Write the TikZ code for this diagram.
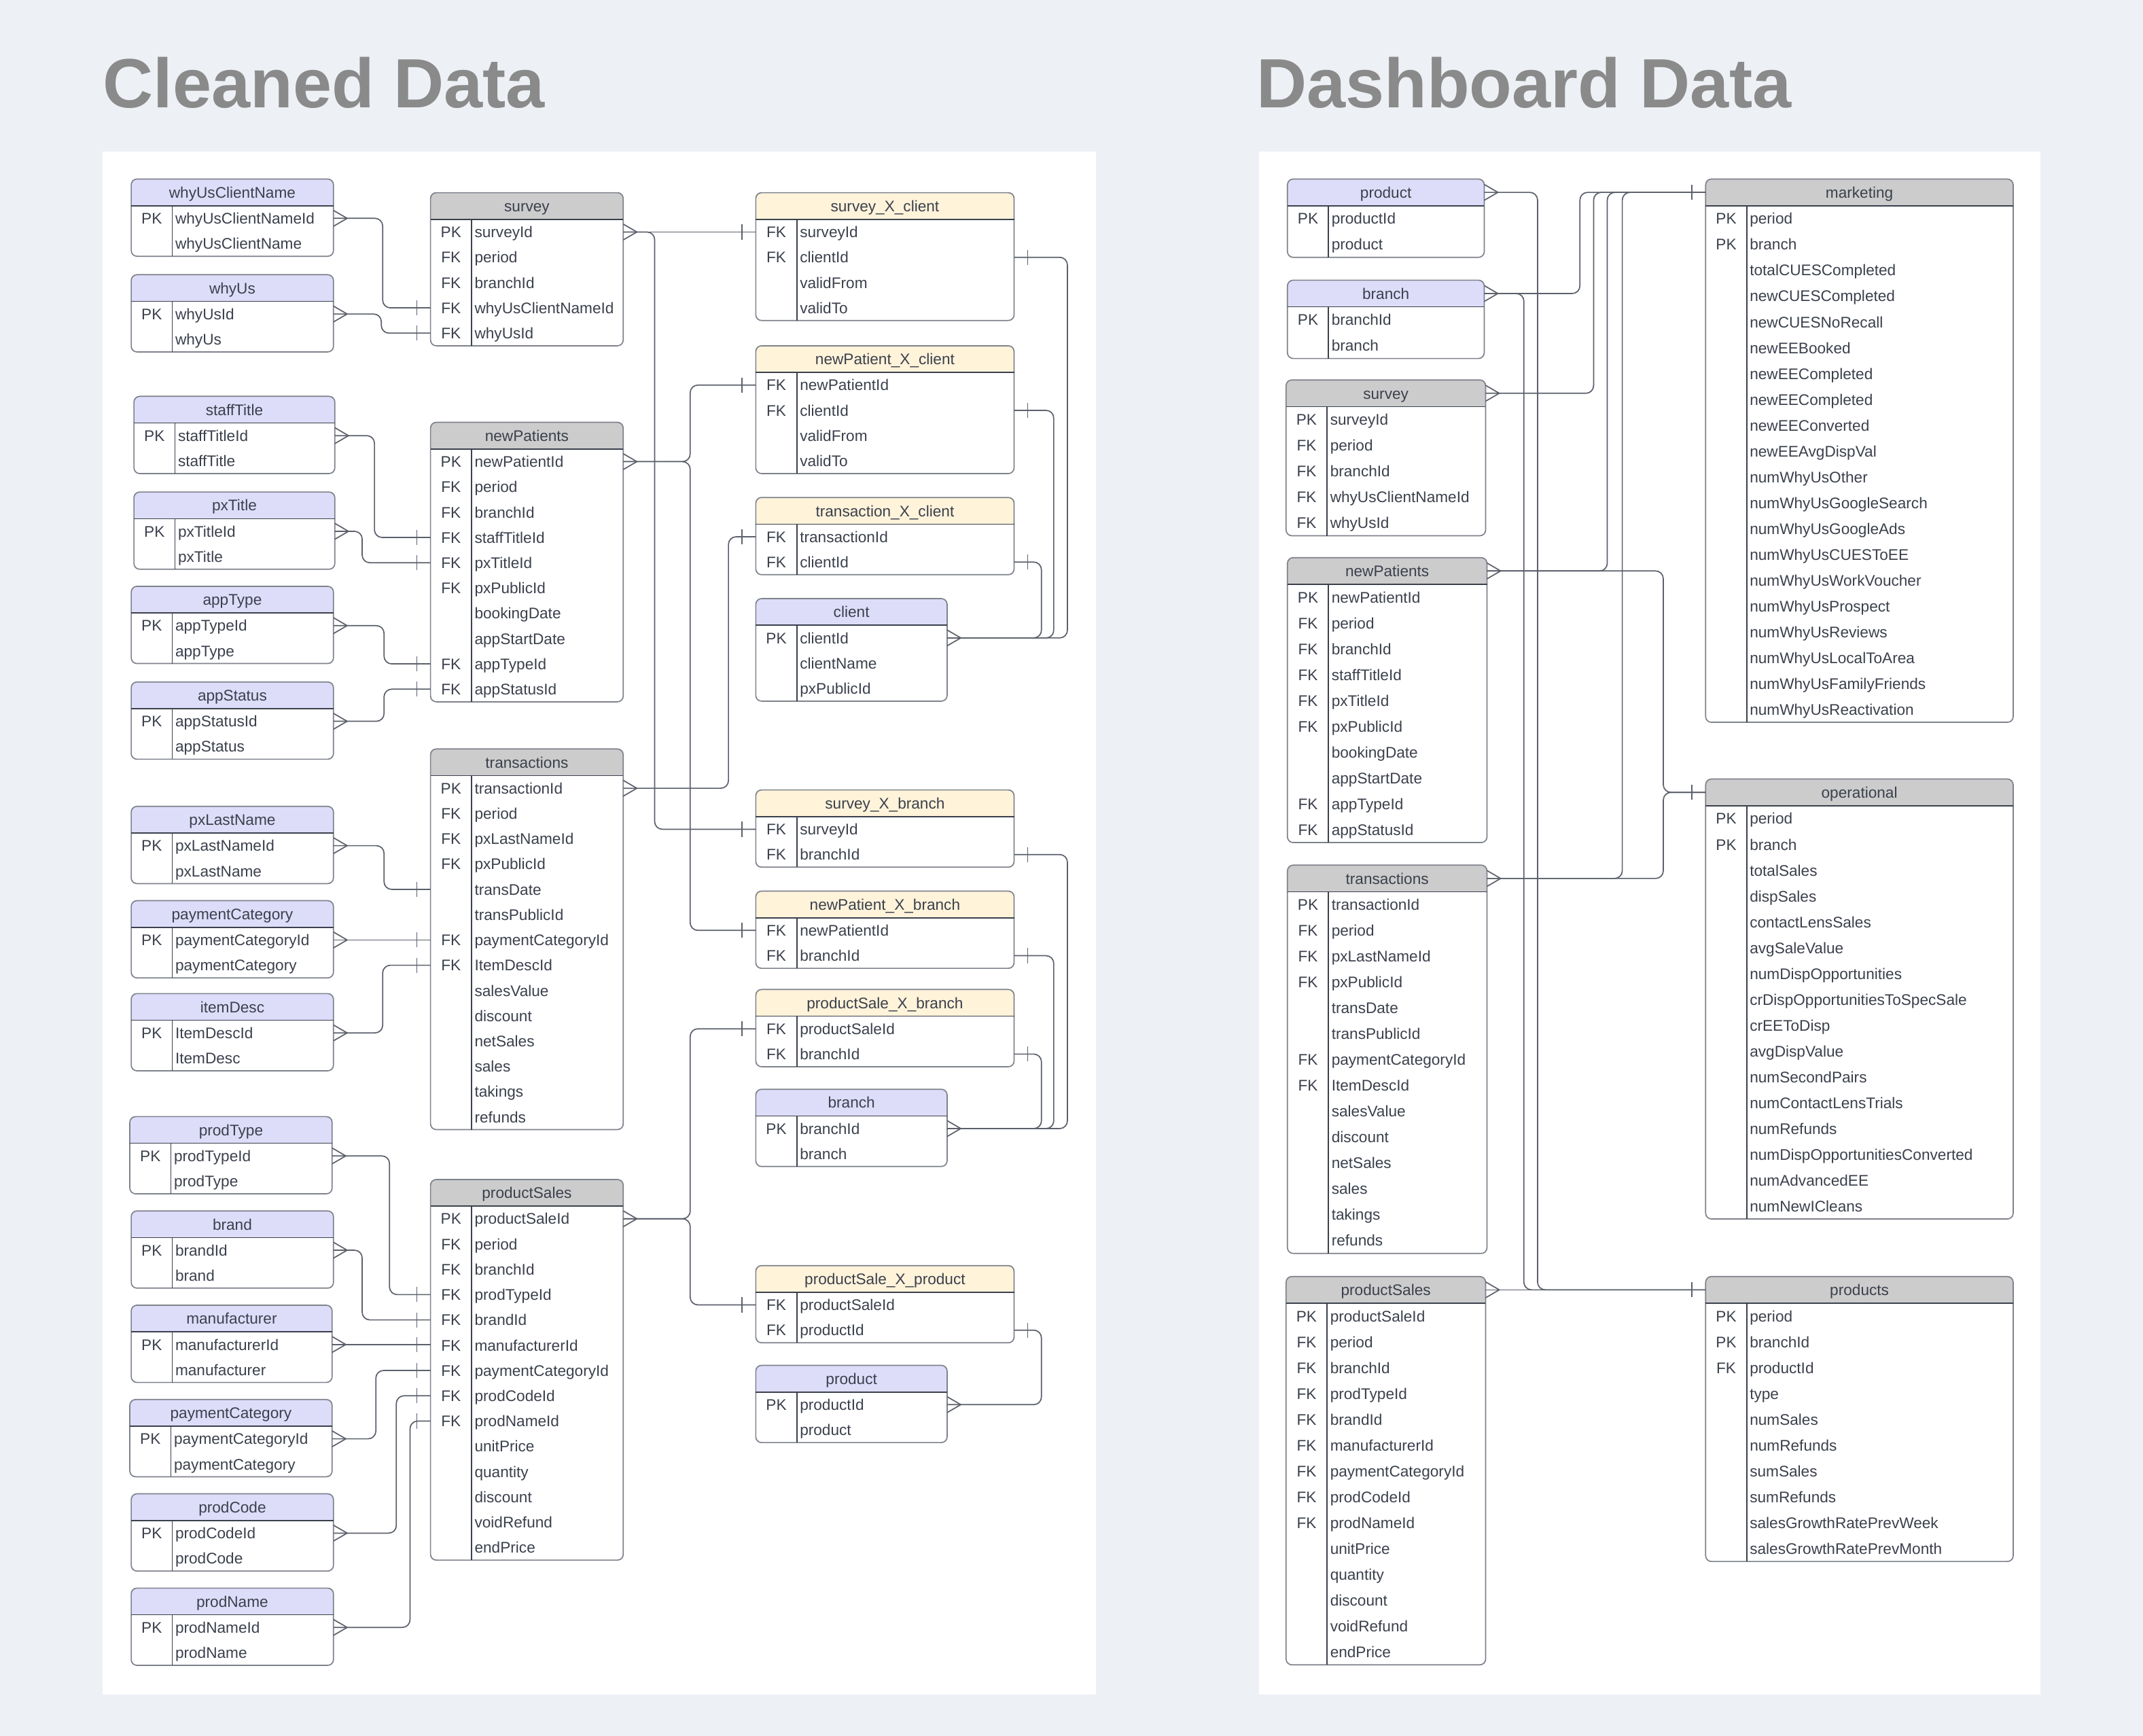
\documentclass[tikz,border=0pt]{standalone}
\usepackage{fontspec}
\setmainfont{Liberation Sans}
\usepackage{xcolor}
\usepackage{tikz}
\usetikzlibrary{calc}

\definecolor{bgpage}{HTML}{EDF0F5}
\definecolor{hdrlav}{HTML}{DDDDFA}
\definecolor{hdrgray}{HTML}{CCCCCC}
\definecolor{hdrcream}{HTML}{FFF3DA}
\definecolor{txtdark}{HTML}{3B404C}
\definecolor{titlegray}{HTML}{8A8A8A}
\definecolor{edgegray}{HTML}{7E828B}
\definecolor{linegray}{HTML}{5B606B}

\tikzstyle{hdrbox} = [rectangle, inner sep=0pt, outer sep=0pt, minimum height=0.4875cm, text height=5.8pt, text depth=0pt, text=txtdark, font=\fontsize{8}{9}\selectfont]
\tikzstyle{rowbox} = [rectangle, inner sep=0pt, outer sep=0pt]
\tikzstyle{keytxt} = [inner sep=0pt, text height=5.8pt, text depth=0pt, text=txtdark, font=\fontsize{8}{9}\selectfont]
\tikzstyle{fldtxt} = [inner sep=0pt, anchor=west, text height=5.8pt, text depth=0pt, text=txtdark, font=\fontsize{8}{9}\selectfont]
\tikzstyle{frame} = [draw=edgegray, line width=0.6pt, rounded corners=3]
\tikzstyle{sepline} = [draw=txtdark, line width=0.6pt]
\tikzstyle{rel} = [draw=linegray, line width=0.6pt, rounded corners=4]
\tikzstyle{title} = [anchor=base west, inner sep=0pt, text=titlegray, font=\fontsize{36.3}{40}\selectfont\bfseries]

\newcommand{\rowh}{18.5}
% table: name, left, top, width, header colour, title, key/field rows
\newcommand{\ertable}[7]{%
  \fill[#5, rounded corners=3] (#2,#3) rectangle ++(#4,19.5);
  \fill[#5] (#2,#3+10) rectangle ++(#4,9.5);
  \node[hdrbox, minimum width=#4*0.025cm, anchor=north west] (#1) at (#2,#3) {#6};
  \foreach \k/\f [count=\i] in {#7} {
    \node[rowbox, minimum width=#4*0.025cm, minimum height=\rowh*0.025cm, anchor=north west] (#1-\i) at (#2,{#3+19.5+(\i-1)*\rowh}) {};
    \node[keytxt] (#1-\i-k) at ($(#1-\i.west)+(15,0)$) {\k};
    \node[fldtxt] (#1-\i-f) at ($(#1-\i.west)+(32,0)$) {\f};
    \xdef\nrows{\i}
  }
  \draw[frame] (#2,#3) rectangle (#1-\nrows.south east);
  \draw[sepline] (#1.south west) -- (#1.south east);
  \draw[sepline] ($(#1.south west)+(30,0)$) -- ($(#1-\nrows.south west)+(30,0)$);
}
% crow's foot on a right edge, bar at an edge
\newcommand{\manyend}[1]{\draw[rel, sharp corners] ($(#1)+(0,-5.8)$) -- ($(#1)+(10,0)$) -- ($(#1)+(0,5.8)$);}
\newcommand{\oneend}[2]{\draw[rel] ($(#1)+(#2,-5.5)$) -- ($(#1)+(#2,5.5)$);}

\begin{document}
\begin{tikzpicture}[x=0.025cm, y=-0.025cm]
  \useasboundingbox (0,0) rectangle (1568,1270);
  \fill[bgpage] (0,0) rectangle (1568,1270);            % page
  \fill[white] (75,111) rectangle (802,1240);           % left panel
  \fill[white] (921,111) rectangle (1493,1240);         % right panel
  \node[title] (ttlclean) at (75,79) {Cleaned Data};
  \node[title] (ttldash) at (919,79) {Dashboard Data};

  % ---- Cleaned Data: lookup tables
  \ertable{wucn}{96}{131}{148}{hdrlav}{whyUsClientName}{PK/whyUsClientNameId, /whyUsClientName}
  \ertable{whyus}{96}{201}{148}{hdrlav}{whyUs}{PK/whyUsId, /whyUs}
  \ertable{stafft}{98}{290}{147}{hdrlav}{staffTitle}{PK/staffTitleId, /staffTitle}
  \ertable{pxt}{98}{360}{147}{hdrlav}{pxTitle}{PK/pxTitleId, /pxTitle}
  \ertable{appt}{96}{429}{148}{hdrlav}{appType}{PK/appTypeId, /appType}
  \ertable{apps}{96}{499}{148}{hdrlav}{appStatus}{PK/appStatusId, /appStatus}
  \ertable{pxln}{96}{590}{148}{hdrlav}{pxLastName}{PK/pxLastNameId, /pxLastName}
  \ertable{paycat}{96}{659}{148}{hdrlav}{paymentCategory}{PK/paymentCategoryId, /paymentCategory}
  \ertable{itemd}{96}{727}{148}{hdrlav}{itemDesc}{PK/ItemDescId, /ItemDesc}
  \ertable{prodt}{95}{817}{148}{hdrlav}{prodType}{PK/prodTypeId, /prodType}
  \ertable{brand}{96}{886}{148}{hdrlav}{brand}{PK/brandId, /brand}
  \ertable{manuf}{96}{955}{147}{hdrlav}{manufacturer}{PK/manufacturerId, /manufacturer}
  \ertable{paycatb}{95}{1024}{148}{hdrlav}{paymentCategory}{PK/paymentCategoryId, /paymentCategory}
  \ertable{prodc}{96}{1093}{148}{hdrlav}{prodCode}{PK/prodCodeId, /prodCode}
  \ertable{prodn}{96}{1162}{148}{hdrlav}{prodName}{PK/prodNameId, /prodName}

  % ---- Cleaned Data: fact tables
  \ertable{surveyL}{315}{141}{141}{hdrgray}{survey}{PK/surveyId, FK/period, FK/branchId, FK/whyUsClientNameId, FK/whyUsId}
  \ertable{npL}{315}{309}{141}{hdrgray}{newPatients}{PK/newPatientId, FK/period, FK/branchId, FK/staffTitleId, FK/pxTitleId, FK/pxPublicId, /bookingDate, /appStartDate, FK/appTypeId, FK/appStatusId}
  \ertable{trL}{315}{548}{141}{hdrgray}{transactions}{PK/transactionId, FK/period, FK/pxLastNameId, FK/pxPublicId, /transDate, /transPublicId, FK/paymentCategoryId, FK/ItemDescId, /salesValue, /discount, /netSales, /sales, /takings, /refunds}
  \ertable{psL}{315}{863}{141}{hdrgray}{productSales}{PK/productSaleId, FK/period, FK/branchId, FK/prodTypeId, FK/brandId, FK/manufacturerId, FK/paymentCategoryId, FK/prodCodeId, FK/prodNameId, /unitPrice, /quantity, /discount, /voidRefund, /endPrice}

  % ---- Cleaned Data: bridge tables and dimensions
  \ertable{sxc}{553}{141}{189}{hdrcream}{survey\_X\_client}{FK/surveyId, FK/clientId, /validFrom, /validTo}
  \ertable{npxc}{553}{253}{189}{hdrcream}{newPatient\_X\_client}{FK/newPatientId, FK/clientId, /validFrom, /validTo}
  \ertable{txc}{553}{364}{189}{hdrcream}{transaction\_X\_client}{FK/transactionId, FK/clientId}
  \ertable{client}{553}{438}{140}{hdrlav}{client}{PK/clientId, /clientName, /pxPublicId}
  \ertable{sxb}{553}{578}{189}{hdrcream}{survey\_X\_branch}{FK/surveyId, FK/branchId}
  \ertable{npxb}{553}{652}{189}{hdrcream}{newPatient\_X\_branch}{FK/newPatientId, FK/branchId}
  \ertable{psxb}{553}{724}{189}{hdrcream}{productSale\_X\_branch}{FK/productSaleId, FK/branchId}
  \ertable{branchL}{553}{797}{140}{hdrlav}{branch}{PK/branchId, /branch}
  \ertable{psxp}{553}{926}{189}{hdrcream}{productSale\_X\_product}{FK/productSaleId, FK/productId}
  \ertable{productL}{553}{999}{140}{hdrlav}{product}{PK/productId, /product}

  % ---- Dashboard Data
  \renewcommand{\rowh}{18.9}
  \ertable{productR}{942}{131}{144}{hdrlav}{product}{PK/productId, /product}
  \ertable{branchR}{942}{205}{144}{hdrlav}{branch}{PK/branchId, /branch}
  \ertable{surveyR}{941}{278}{146}{hdrgray}{survey}{PK/surveyId, FK/period, FK/branchId, FK/whyUsClientNameId, FK/whyUsId}
  \ertable{npR}{942}{408}{146}{hdrgray}{newPatients}{PK/newPatientId, FK/period, FK/branchId, FK/staffTitleId, FK/pxTitleId, FK/pxPublicId, /bookingDate, /appStartDate, FK/appTypeId, FK/appStatusId}
  \ertable{trR}{942}{633}{146}{hdrgray}{transactions}{PK/transactionId, FK/period, FK/pxLastNameId, FK/pxPublicId, /transDate, /transPublicId, FK/paymentCategoryId, FK/ItemDescId, /salesValue, /discount, /netSales, /sales, /takings, /refunds}
  \ertable{psR}{941}{934}{146}{hdrgray}{productSales}{PK/productSaleId, FK/period, FK/branchId, FK/prodTypeId, FK/brandId, FK/manufacturerId, FK/paymentCategoryId, FK/prodCodeId, FK/prodNameId, /unitPrice, /quantity, /discount, /voidRefund, /endPrice}
  \ertable{mkt}{1248}{131}{225}{hdrgray}{marketing}{PK/period, PK/branch, /totalCUESCompleted, /newCUESCompleted, /newCUESNoRecall, /newEEBooked, /newEECompleted, /newEECompleted, /newEEConverted, /newEEAvgDispVal, /numWhyUsOther, /numWhyUsGoogleSearch, /numWhyUsGoogleAds, /numWhyUsCUESToEE, /numWhyUsWorkVoucher, /numWhyUsProspect, /numWhyUsReviews, /numWhyUsLocalToArea, /numWhyUsFamilyFriends, /numWhyUsReactivation}
  \ertable{oper}{1248}{570}{225}{hdrgray}{operational}{PK/period, PK/branch, /totalSales, /dispSales, /contactLensSales, /avgSaleValue, /numDispOpportunities, /crDispOpportunitiesToSpecSale, /crEEToDisp, /avgDispValue, /numSecondPairs, /numContactLensTrials, /numRefunds, /numDispOpportunitiesConverted, /numAdvancedEE, /numNewICleans}
  \ertable{prods}{1248}{934}{225}{hdrgray}{products}{PK/period, PK/branchId, FK/productId, /type, /numSales, /numRefunds, /sumSales, /sumRefunds, /salesGrowthRatePrevWeek, /salesGrowthRatePrevMonth}

  % ---- connectors: lookups -> fact tables
  \draw[rel] (wucn-1.east) -- ++(36,0) |- (surveyL-4.west);   \manyend{wucn-1.east} \oneend{surveyL-4.west}{-10}
  \draw[rel] (whyus-1.east) -- ++(35,0) |- (surveyL-5.west);  \manyend{whyus-1.east} \oneend{surveyL-5.west}{-10}
  \draw[rel] (stafft-1.east) -- ++(29,0) |- (npL-4.west);     \manyend{stafft-1.east} \oneend{npL-4.west}{-10}
  \draw[rel] (pxt-1.east) -- ++(20,0) |- (npL-5.west);        \manyend{pxt-1.east} \oneend{npL-5.west}{-10}
  \draw[rel] (appt-1.east) -- ++(37,0) |- (npL-9.west);       \manyend{appt-1.east} \oneend{npL-9.west}{-10}
  \draw[rel] (apps-1.east) -- ++(37,0) |- (npL-10.west);      \manyend{apps-1.east} \oneend{npL-10.west}{-10}
  \draw[rel] (pxln-1.east) -- ++(37,0) |- (trL-5.west);       \manyend{pxln-1.east} \oneend{trL-5.west}{-10}
  \draw[rel] (paycat-1.east) -- (trL-7.west);                 \manyend{paycat-1.east} \oneend{trL-7.west}{-10}
  \draw[rel] (itemd-1.east) -- ++(36,0) |- (trL-8.west);      \manyend{itemd-1.east} \oneend{trL-8.west}{-10}
  \draw[rel] (prodt-1.east) -- ++(42,0) |- (psL-4.west);      \manyend{prodt-1.east} \oneend{psL-4.west}{-10}
  \draw[rel] (brand-1.east) -- ++(21,0) |- (psL-5.west);      \manyend{brand-1.east} \oneend{psL-5.west}{-10}
  \draw[rel] (manuf-1.east) -- (manuf-1.east -| psL-6.west);  \manyend{manuf-1.east} \oneend{manuf-1.east -| psL-6.west}{-10}
  \draw[rel] (paycatb-1.east) -- ++(32,0) |- (psL-7.west);    \manyend{paycatb-1.east} \oneend{psL-7.west}{-10}
  \draw[rel] (prodc-1.east) -- ++(46,0) |- (psL-8.west);      \manyend{prodc-1.east} \oneend{psL-8.west}{-10}
  \draw[rel] (prodn-1.east) -- ++(56,0) |- (psL-9.west);      \manyend{prodn-1.east} \oneend{psL-9.west}{-10}

  % ---- connectors: fact tables -> bridges
  \draw[rel] (surveyL-1.east) -- (sxc-1.west);                \oneend{sxc-1.west}{-10}
  \draw[rel] (surveyL-1.east) -- ++(23,0) |- (sxb-1.west);    \oneend{sxb-1.west}{-10}
  \manyend{surveyL-1.east}
  \draw[rel] (npL-1.east) -- ++(49,0) |- (npxc-1.west);       \oneend{npxc-1.west}{-10}
  \draw[rel] (npL-1.east) -- ++(49,0) |- (npxb-1.west);       \oneend{npxb-1.west}{-10}
  \manyend{npL-1.east}
  \draw[rel] (trL-1.east) -- ++(77,0) |- (txc-1.west);        \oneend{txc-1.west}{-10}
  \manyend{trL-1.east}
  \draw[rel] (psL-1.east) -- ++(49,0) |- (psxb-1.west);       \oneend{psxb-1.west}{-10}
  \draw[rel] (psL-1.east) -- ++(49,0) |- (psxp-1.west);       \oneend{psxp-1.west}{-10}
  \manyend{psL-1.east}

  % ---- connectors: bridges -> client / branch / product
  \draw[rel] (sxc-2.east) -- ++(39,0) |- (client-1.east);     \oneend{sxc-2.east}{10}
  \draw[rel] (npxc-2.east) -- ++(29,0) |- (client-1.east);    \oneend{npxc-2.east}{10}
  \draw[rel] (txc-2.east) -- ++(20,0) |- (client-1.east);     \oneend{txc-2.east}{10}
  \manyend{client-1.east}
  \draw[rel] (sxb-2.east) -- ++(39,0) |- (branchL-1.east);    \oneend{sxb-2.east}{10}
  \draw[rel] (npxb-2.east) -- ++(29,0) |- (branchL-1.east);   \oneend{npxb-2.east}{10}
  \draw[rel] (psxb-2.east) -- ++(20,0) |- (branchL-1.east);   \oneend{psxb-2.east}{10}
  \manyend{branchL-1.east}
  \draw[rel] (psxp-2.east) -- ++(20,0) |- (productL-1.east);  \oneend{psxp-2.east}{10}
  \manyend{productL-1.east}

  % ---- connectors: Dashboard Data
  \draw[rel] (productR.east) -- ++(39,0) |- (prods.west);     \manyend{productR.east}
  \draw[rel] (branchR.east) -- ++(70,0) |- (mkt.west);
  \draw[rel] (branchR.east) -- ++(29,0) |- (prods.west);      \manyend{branchR.east}
  \draw[rel] (surveyR.east) -- ++(79,0) |- (mkt.west);        \manyend{surveyR.east}
  \draw[rel] (npR.east) -- ++(88,0) |- (mkt.west);
  \draw[rel] (npR.east) -- ++(129,0) |- (oper.west);          \manyend{npR.east}
  \draw[rel] (trR.east) -- ++(99,0) |- (mkt.west);
  \draw[rel] (trR.east) -- ++(129,0) |- (oper.west);          \manyend{trR.east}
  \draw[rel] (psR.east) -- (prods.west);                      \manyend{psR.east}
  \oneend{mkt.west}{-10} \oneend{oper.west}{-10} \oneend{prods.west}{-10}
\end{tikzpicture}
\end{document}
